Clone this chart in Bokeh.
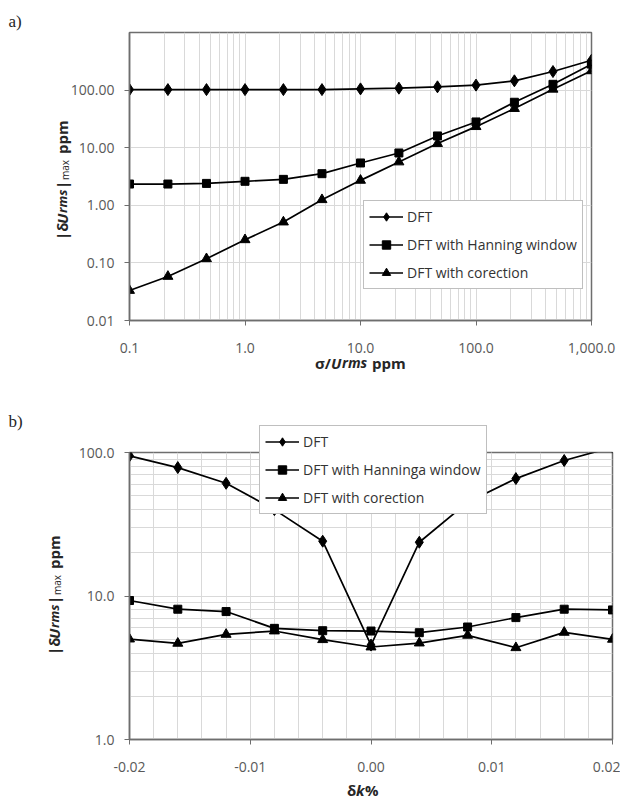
import numpy as np
from bokeh.plotting import figure
from bokeh.layouts import column
from bokeh.models import (Legend, LegendItem, Label, FixedTicker, GridBox,
                          NumeralTickFormatter, PrintfTickFormatter, Range1d)
from bokeh.embed import file_html
from bokeh.resources import INLINE

# ---------------- data: chart a) ----------------
a_x = [0.1, 0.215, 0.464, 1.0, 2.15, 4.64, 10.0, 21.5, 46.4, 100.0, 215.0, 464.0, 1000.0]
a_dft = [102, 102, 102, 102, 102, 102, 105, 108, 114, 122, 145, 210, 330]
a_hann = [2.34, 2.34, 2.40, 2.61, 2.82, 3.54, 5.43, 8.1, 16.0, 28.0, 61.5, 126, 282]
a_corr = [0.0332, 0.0582, 0.118, 0.252, 0.512, 1.25, 2.71, 5.65, 11.8, 23.2, 47.8, 103.5, 216]
a_xticks = [0.1, 1, 10, 100, 1000]
a_yticks = [0.01, 0.1, 1, 10, 100]
a_labels = ["DFT", "DFT with Hanning window", "DFT with corection"]

# ---------------- data: chart b) ----------------
b_x = [-0.02, -0.016, -0.012, -0.008, -0.004, 0.0, 0.004, 0.008, 0.012, 0.016, 0.02]
b_dft = [94.8, 78.5, 61.0, 40.0, 24.1, 4.55, 23.7, 45.0, 65.8, 87.9, 109.0]
b_hann = [9.3, 8.09, 7.79, 5.95, 5.73, 5.70, 5.55, 6.08, 7.07, 8.09, 8.0]
b_corr = [5.01, 4.68, 5.40, 5.70, 4.96, 4.41, 4.70, 5.32, 4.36, 5.58, 4.99]
b_xticks = [-0.02, -0.01, 0.0, 0.01, 0.02]
b_yticks = [1, 10, 100]
b_labels = ["DFT", "DFT with Hanninga window", "DFT with corection"]

FONT = "Open Sans"
GRID = "#d9d9d9"
FRAME = "#6e6e6e"
MARKERS = [("diamond", 12), ("square", 8), ("triangle", 10)]
LEGEND_STYLE = dict(border_line_color="#808080", border_line_width=1,
                    background_fill_color="white", background_fill_alpha=1,
                    label_text_font=FONT, label_text_font_size="14px",
                    label_text_color="#333333", glyph_width=34, glyph_height=21,
                    label_height=21, spacing=7, padding=5, margin=0,
                    label_standoff=4)


def log_minor(decades):
    return [m * 10.0 ** k for k in decades for m in range(2, 10)]


def style(p):
    p.outline_line_color = FRAME
    p.outline_line_width = 1.5
    for ax in (p.xaxis[0], p.yaxis[0]):
        ax.axis_line_color = FRAME
        ax.axis_line_width = 1.5
        ax.major_tick_line_color = FRAME
        ax.major_tick_out = 5
        ax.major_tick_in = 0
        ax.minor_tick_out = 0
        ax.minor_tick_in = 0
        ax.major_label_text_font = FONT
        ax.major_label_text_font_size = "14px"
        ax.major_label_text_color = "#595959"
    p.xaxis.major_label_standoff = 17
    p.yaxis.major_label_standoff = 10
    p.grid.grid_line_color = GRID
    p.grid.grid_line_width = 1


def series(p, x, ys):
    rends = []
    for y, (m, s) in zip(ys, MARKERS):
        l = p.line(x, y, line_color="black", line_width=1.7)
        sc = p.scatter(x, y, marker=m, size=s, fill_color="black", line_color="black")
        rends.append([l, sc])
    return rends


def make_legend(labels, rends, loc):
    items = [LegendItem(label=t, renderers=r) for t, r in zip(labels, rends)]
    return Legend(items=items, location=loc, **LEGEND_STYLE)


# ---------------- figure a ----------------
pa = figure(x_axis_type="log", y_axis_type="log", output_backend="svg",
            toolbar_location=None, frame_width=462, frame_height=288,
            min_border_left=129, min_border_right=29, min_border_top=32,
            min_border_bottom=80, x_range=Range1d(0.1, 1000),
            y_range=Range1d(0.01, 1000))
style(pa)
pa.xaxis.ticker = FixedTicker(ticks=a_xticks, minor_ticks=log_minor(range(-1, 3)))
pa.yaxis.ticker = FixedTicker(ticks=a_yticks)
pa.xaxis.formatter = NumeralTickFormatter(format="0,0.0")
pa.yaxis.formatter = PrintfTickFormatter(format="%.2f")
pa.xgrid.minor_grid_line_color = GRID
ra = series(pa, a_x, [a_dft, a_hann, a_corr])
pa.add_layout(make_legend(a_labels, ra, (234, 31)))

# ---------------- figure b ----------------
pb = figure(y_axis_type="log", output_backend="svg", toolbar_location=None,
            frame_width=483, frame_height=287, min_border_left=121,
            min_border_right=16, min_border_top=52, min_border_bottom=61,
            x_range=Range1d(-0.02, 0.02), y_range=Range1d(1, 100))
style(pb)
pb.xaxis.ticker = FixedTicker(ticks=b_xticks,
                              minor_ticks=[round(-0.02 + 0.002 * i, 3) for i in range(21)])
pb.yaxis.ticker = FixedTicker(ticks=b_yticks, minor_ticks=log_minor(range(0, 2)))
pb.xaxis.formatter = NumeralTickFormatter(format="0.00")
pb.yaxis.formatter = NumeralTickFormatter(format="0.0")
pb.xgrid.minor_grid_line_color = GRID
pb.ygrid.minor_grid_line_color = GRID
series(pb, b_x, [b_dft, b_hann, b_corr])

# ---------------- transparent overlay for texts outside the frames ----------------
ov = figure(width=620, height=800, x_range=Range1d(0, 620), y_range=Range1d(800, 0),
            x_axis_type=None, y_axis_type=None, toolbar_location=None,
            output_backend="svg", min_border=0, outline_line_color=None,
            background_fill_color=None, border_fill_color=None)
ov.grid.visible = False

# legend of chart b (it overlaps the top edge of the plot area);
# legend-only renderers hold a single NaN so they draw nothing in the plot
dummy = []
for m, s in MARKERS:
    l = ov.line(x=[np.nan], y=[np.nan], line_color="black", line_width=1.7)
    sc = ov.scatter(x=[np.nan], y=[np.nan], marker=m, size=s,
                    fill_color="black", line_color="black")
    dummy.append([l, sc])
ov.add_layout(make_legend(b_labels, dummy, (259, 286)))


def piece(text, x, y, size, bold=True, italic=False, angle=0.0, font=FONT):
    fs = ("bold " if bold else "") + ("italic" if italic else "")
    fs = fs.strip() or "normal"
    ov.add_layout(Label(x=x, y=y, text=text, text_font=font,
                        text_font_size=f"{size}px", text_font_style=fs,
                        text_color="#262626", text_align="left",
                        text_baseline="alphabetic", angle=angle))


def run(parts, cx, cy, vertical):
    total = sum(w for (_, w, *_r) in parts)
    pos = -total / 2.0
    for text, w, size, bold, italic, shift in parts:
        if vertical:
            piece(text, cx + shift, cy - pos, size, bold, italic, angle=np.pi / 2)
        else:
            piece(text, cx + pos, cy + shift, size, bold, italic)
        pos += w


ylabel_parts = [
    ("|δ", 16, 15, True, False, 0),
    ("U", 11, 15, True, True, 0),
    ("rms", 24, 13, True, True, 0),
    ("|", 9, 15, True, False, 0),
    ("max", 26, 10, False, False, 3),
    ("ppm", 33, 15, True, False, 0),
]

run(ylabel_parts, 61, 180, True)
run([("σ/", 16, 15, True, False, 0), ("U", 11, 15, True, True, 0),
     ("rms", 30, 14, True, True, 0), ("ppm", 34, 15, True, False, 0)],
    360, 362, False)
piece("a)", 8, 21, 17, bold=False, font="Liberation Serif")

run(ylabel_parts, 53, 595, True)
run([("δ", 9, 15, True, False, 0), ("k", 9, 15, True, True, 0),
     ("%", 13, 15, True, False, 0)], 362, 789, False)
piece("b)", 8, 421, 17, bold=False, font="Liberation Serif")

layout = GridBox(children=[(column(pa, pb, spacing=0), 0, 0), (column(ov), 0, 0)])
open("out.html", "w").write(file_html(layout, INLINE))
